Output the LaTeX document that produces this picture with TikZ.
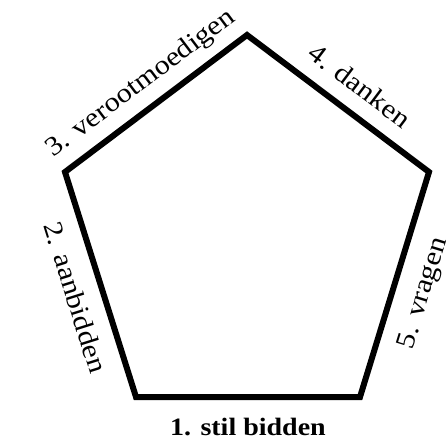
\documentclass[tikz,border=0pt]{standalone}
\usepackage{fontspec}
\setmainfont[FakeStretch=1.12]{Liberation Serif}
\usetikzlibrary{positioning}

\begin{document}
\begin{tikzpicture}[
    x=1pt, y=-1pt,
    font=\fontsize{27}{32}\selectfont,
    side/.style={draw=black, line width=6pt, line join=miter},
    lbl/.style={sloped, inner sep=0pt, text height=18.5pt, text depth=0pt}
  ]
    \useasboundingbox (0,0) rectangle (446,440);

    % Corners of the pentagon
    \coordinate (top) at (247,35);
    \coordinate (ur) at (429,172);
    \coordinate (br) at (360,397);
    \coordinate (bl) at (136,397);
    \coordinate (ul) at (65,172);

    \draw[side] (top) -- (ur) -- (br) -- (bl) -- (ul) -- cycle;

    % Labels along the sides
    \path (bl) -- (br) node[lbl, midway, below=21pt, font=\fontsize{25}{30}\selectfont, text height=17pt] {\textbf{1. stil bidden}};
    \path (ul) -- (bl) node[lbl, pos=0.52, below=18pt] {2. aanbidden};
    \path (ul) -- (top) node[lbl, midway, above=18pt] {3. verootmoedigen};
    \path (top) -- (ur) node[lbl, pos=0.53, above=18pt] {4. danken};
    \path (br) -- (ur) node[lbl, midway, below=18pt] {5. vragen};
\end{tikzpicture}
\end{document}
